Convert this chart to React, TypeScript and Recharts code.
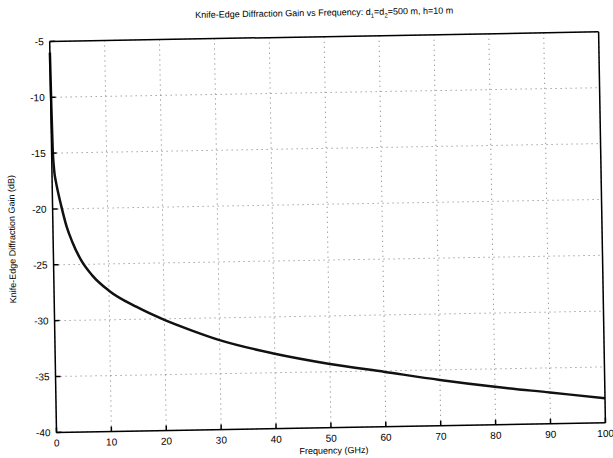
import {
  CartesianGrid,
  Line,
  LineChart,
  XAxis,
  YAxis,
} from "recharts";

// frequency (GHz) and diffraction gain (dB), d1 = d2 = 500 m, h = 10 m
const frequencies = [
  0, 0.1, 0.2, 0.4, 0.7, 1, 1.7, 2.5, 3.5, 5, 7, 10, 15, 20, 25, 30, 40, 50,
  60, 70, 80, 90, 100,
];
const gains = [
  -6, -11, -14.5, -16.5, -17.6, -18.4, -20, -21.6, -23, -24.6, -26, -27.4,
  -28.9, -30.1, -31.1, -32.0, -33.3, -34.3, -35.1, -35.9, -36.6, -37.2, -37.8,
];
const xTicks = [0, 10, 20, 30, 40, 50, 60, 70, 80, 90, 100];
const yTicks = [-40, -35, -30, -25, -20, -15, -10, -5];

const data = frequencies.map((f, i) => ({ f, gain: gains[i] }));

const font = "'Liberation Sans', Arial, sans-serif";
const tickStyle = { fontSize: 10, fill: "#000", fontFamily: font };

const App = () => {
  return (
    <div
      style={{
        position: "absolute",
        left: 0,
        top: 0,
        width: 613,
        height: 458,
        background: "#fff",
        transform: "rotate(-1deg)",
        fontFamily: font,
      }}
    >
      <div
        style={{
          position: "absolute",
          top: 8,
          left: 0,
          width: 656,
          textAlign: "center",
          fontSize: 9,
          color: "#000",
        }}
      >
        Knife-Edge Diffraction Gain vs Frequency: d<sub style={{ fontSize: 6 }}>1</sub>=d
        <sub style={{ fontSize: 6 }}>2</sub>=500 m, h=10 m
      </div>
      <div
        style={{
          position: "absolute",
          left: 12 - 100,
          top: 235 - 6,
          width: 200,
          textAlign: "center",
          fontSize: 9,
          transform: "rotate(-90deg)",
          color: "#000",
        }}
      >
        Knife-Edge Diffraction Gain (dB)
      </div>
      <div
        style={{
          position: "absolute",
          left: 0,
          top: 446,
          width: 660,
          textAlign: "center",
          fontSize: 9,
          color: "#000",
        }}
      >
        Frequency (GHz)
      </div>
      <LineChart
        width={613}
        height={458}
        data={data}
        margin={{ top: 36, right: 10, bottom: 0, left: 0 }}
      >
        <CartesianGrid
          stroke="#777"
          strokeDasharray="1 4"
          verticalValues={xTicks}
          horizontalValues={yTicks}
        />
        <XAxis
          dataKey="f"
          type="number"
          domain={[0, 100]}
          ticks={xTicks}
          interval={0}
          height={30}
          tick={tickStyle}
          tickSize={-5}
          tickMargin={12}
          stroke="#000"
          strokeWidth={1.5}
        />
        <XAxis
          xAxisId="top"
          orientation="top"
          dataKey="f"
          type="number"
          domain={[0, 100]}
          ticks={xTicks}
          interval={0}
          height={1}
          tick={false}
          tickSize={-5}
          stroke="#000"
          strokeWidth={1.5}
        />
        <YAxis
          type="number"
          domain={[-40, -5]}
          ticks={yTicks}
          interval={0}
          width={53}
          tick={tickStyle}
          tickSize={-5}
          tickMargin={11}
          stroke="#000"
          strokeWidth={1.5}
        />
        <YAxis
          yAxisId="right"
          orientation="right"
          type="number"
          domain={[-40, -5]}
          ticks={yTicks}
          interval={0}
          width={1}
          tick={false}
          tickSize={-5}
          stroke="#000"
          strokeWidth={1.5}
        />
        <Line
          type="monotone"
          dataKey="gain"
          stroke="#111"
          strokeWidth={2.5}
          dot={false}
          isAnimationActive={false}
        />
      </LineChart>
    </div>
  );
};

export default App;
